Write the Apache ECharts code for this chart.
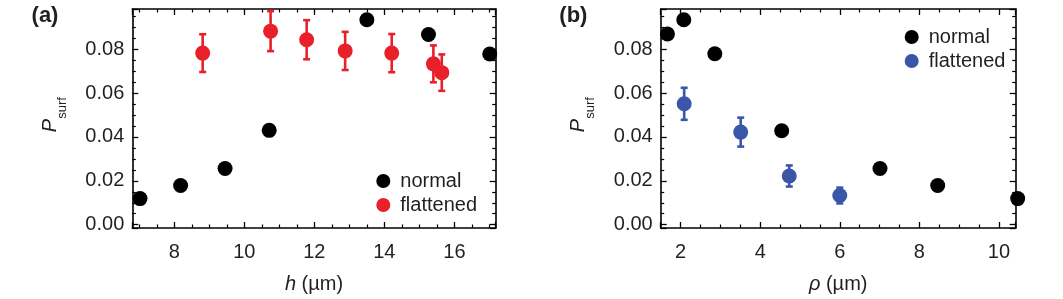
<!DOCTYPE html>
<html><head><meta charset="utf-8">
<script src="https://cdn.jsdelivr.net/npm/echarts@6/dist/echarts.min.js"></script>
<style>html,body{margin:0;padding:0;background:#fff}#c{width:1063px;height:299px}</style>
</head><body><div id="c"></div>
<script>
// ---- data: panel (a) ----
const aNormalH = [7.02, 8.18, 9.45, 10.71, 13.50, 15.26, 17.01];
const aNormalP = [0.0119, 0.0179, 0.0256, 0.0430, 0.0934, 0.0867, 0.0778];
const aFlatH   = [8.81, 10.75, 11.78, 12.88, 14.21, 15.40, 15.64];
const aFlatP   = [0.0782, 0.0882, 0.0843, 0.0792, 0.0782, 0.0733, 0.0693];
const aFlatErr = [0.0086, 0.0091, 0.0089, 0.0087, 0.0087, 0.0084, 0.0083];
// ---- data: panel (b) ----
const bNormalRho = [1.67, 2.08, 2.86, 4.54, 7.01, 8.46, 10.47];
const bNormalP   = [0.0869, 0.0934, 0.0779, 0.0428, 0.0256, 0.0179, 0.0119];
const bFlatRho   = [2.09, 3.51, 4.73, 6.00];
const bFlatP     = [0.0551, 0.0422, 0.0222, 0.0133];
const bFlatErr   = [0.0073, 0.0066, 0.0048, 0.0036];
// ---- tick labels ----
const xTicksA = [8, 10, 12, 14, 16];
const xTicksB = [2, 4, 6, 8, 10];
const yTicks  = [0.00, 0.02, 0.04, 0.06, 0.08];

const FONT = "'Liberation Sans', Arial, sans-serif";
const TXT = '#231f20';
const RED = '#e8202a';
const BLUE = '#3a56a8';
const BLACK = '#000000';

function hasTick(list, v) { return list.some(t => Math.abs(t - v) < 1e-6); }

const lineStyle = { color: '#000', width: 1.6 };
function xAx(gi, pos, min, max, ticks, showLabel, name) {
  return {
    type: 'value', gridIndex: gi, position: pos, min: min, max: max, splitNumber: 5,
    axisLine: { show: true, onZero: false, lineStyle: lineStyle },
    axisTick: { show: true, inside: true, length: 6, lineStyle: { color: '#000', width: 1.3 } },
    minorTick: { show: true, splitNumber: 4, length: 3.5, lineStyle: { color: '#000', width: 1.2 } },
    splitLine: { show: false },
    axisLabel: { show: showLabel, margin: 14, color: TXT, fontSize: 20, fontFamily: FONT,
      formatter: v => hasTick(ticks, v) ? String(Math.round(v)) : '' },
    name: name || '', nameLocation: 'middle', nameGap: 46,
    nameTextStyle: { color: TXT, fontSize: 20, fontFamily: FONT,
      rich: { i: { fontStyle: 'italic', fontSize: 20, fontFamily: FONT, color: TXT } } }
  };
}
function yAx(gi, pos, showLabel) {
  return {
    type: 'value', gridIndex: gi, position: pos, min: -0.0015, max: 0.0983, splitNumber: 5,
    axisLine: { show: true, onZero: false, lineStyle: lineStyle },
    axisTick: { show: true, inside: true, length: 6, lineStyle: { color: '#000', width: 1.3 } },
    minorTick: { show: true, splitNumber: 4, length: 3.5, lineStyle: { color: '#000', width: 1.2 } },
    splitLine: { show: false },
    axisLabel: { show: showLabel, margin: 8, color: TXT, fontSize: 20, fontFamily: FONT,
      formatter: v => hasTick(yTicks, v) ? v.toFixed(2) : '' }
  };
}

function errSeries(xi, yi, xs, ys, es, color) {
  return {
    type: 'custom', xAxisIndex: xi, yAxisIndex: yi, silent: true, z: 2, clip: false,
    data: xs.map((x, i) => [x, ys[i], es[i]]),
    renderItem(params, api) {
      const x = api.value(0), y = api.value(1), e = api.value(2);
      const t = api.coord([x, y + e]), b = api.coord([x, y - e]);
      const cw = 3.5, st = { stroke: color, lineWidth: 2.6 };
      return { type: 'group', children: [
        { type: 'line', shape: { x1: t[0], y1: t[1], x2: b[0], y2: b[1] }, style: st },
        { type: 'line', shape: { x1: t[0] - cw, y1: t[1], x2: t[0] + cw, y2: t[1] }, style: st },
        { type: 'line', shape: { x1: b[0] - cw, y1: b[1], x2: b[0] + cw, y2: b[1] }, style: st }
      ] };
    }
  };
}
function scat(name, xi, yi, xs, ys, color) {
  return { type: 'scatter', name: name, xAxisIndex: xi, yAxisIndex: yi, clip: false, z: 3,
    symbol: 'circle', symbolSize: 15, itemStyle: { color: color, opacity: 1 },
    data: xs.map((x, i) => [x, ys[i]]) };
}

const legendCommon = {
  orient: 'vertical', icon: 'circle', itemWidth: 24, itemHeight: 14, itemGap: 4,
  textStyle: { color: TXT, fontSize: 20, fontFamily: FONT },
  formatter: n => n.slice(2), selectedMode: false
};

function gText(txt, x, y, size, opts) {
  return Object.assign({ type: 'text', x: x, y: y, silent: true,
    style: Object.assign({ text: txt, fill: TXT, font: size + 'px ' + FONT, align: 'center', verticalAlign: 'middle' }, (opts && opts.style) || {}) },
    (opts && opts.el) || {});
}

const option = {
  animation: false,
  backgroundColor: '#fff',
  grid: [
    { left: 132.3, top: 9, width: 363.4, height: 223, containLabel: false },
    { left: 660.7, top: 9, width: 355, height: 223, containLabel: false }
  ],
  xAxis: [
    xAx(0, 'bottom', 6.8, 17.18, xTicksA, true, '{i|h} (µm)'),
    xAx(0, 'top', 6.8, 17.18, xTicksA, false),
    xAx(1, 'bottom', 1.5, 10.42, xTicksB, true, '{i|ρ} (µm)'),
    xAx(1, 'top', 1.5, 10.42, xTicksB, false)
  ],
  yAxis: [ yAx(0, 'left', true), yAx(0, 'right', false), yAx(1, 'left', true), yAx(1, 'right', false) ],
  legend: [
    Object.assign({ left: 371.3, top: 166, data: ['a:normal', 'a:flattened'] }, legendCommon),
    Object.assign({ left: 899.7, top: 22, data: ['b:normal', 'b:flattened'] }, legendCommon)
  ],
  graphic: [
    gText('(a)', 45, 16, 22, { style: { font: 'bold 22px ' + FONT } }),
    gText('(b)', 573.4, 16, 22, { style: { font: 'bold 22px ' + FONT } }),
    gText('P', 50, 125.5, 20, { style: { font: 'italic 20px ' + FONT }, el: { rotation: Math.PI / 2 } }),
    gText('surf', 62.5, 108, 13, { el: { rotation: Math.PI / 2 } }),
    gText('P', 578.4, 125.5, 20, { style: { font: 'italic 20px ' + FONT }, el: { rotation: Math.PI / 2 } }),
    gText('surf', 590.9, 108, 13, { el: { rotation: Math.PI / 2 } })
  ],
  series: [
    errSeries(0, 0, aFlatH, aFlatP, aFlatErr, RED),
    scat('a:normal', 0, 0, aNormalH, aNormalP, BLACK),
    scat('a:flattened', 0, 0, aFlatH, aFlatP, RED),
    errSeries(2, 2, bFlatRho, bFlatP, bFlatErr, BLUE),
    scat('b:normal', 2, 2, bNormalRho, bNormalP, BLACK),
    scat('b:flattened', 2, 2, bFlatRho, bFlatP, BLUE)
  ]
};
const chart = echarts.init(document.getElementById('c'), null, { renderer: 'canvas' });
chart.setOption(option);
</script>
</body></html>
